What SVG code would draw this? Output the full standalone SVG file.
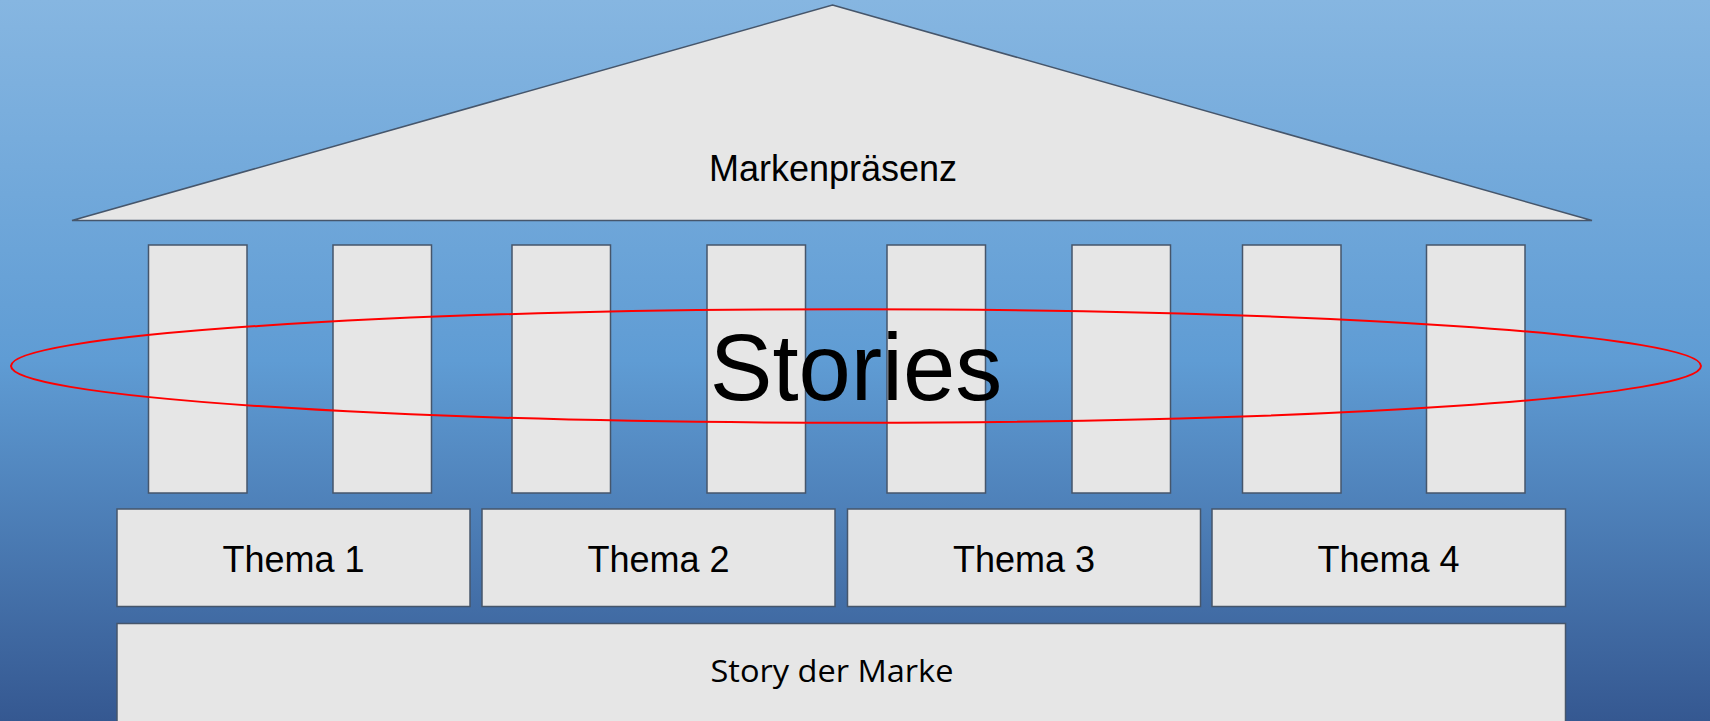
<svg xmlns="http://www.w3.org/2000/svg" width="1710" height="721" viewBox="0 0 1710 721">
<defs>
<linearGradient id="bg" x1="0" y1="0" x2="0" y2="1">
<stop offset="0" stop-color="#86b6e1"/>
<stop offset="0.5" stop-color="#5f9cd4"/>
<stop offset="1" stop-color="#355891"/>
</linearGradient>
<style>
.sh{fill:#e6e6e6;stroke:#46566b;stroke-width:1.5}
.t{font-family:"Liberation Sans",Arial,sans-serif;fill:#000;text-anchor:middle}
</style>
</defs>
<rect x="0" y="0" width="1710" height="721" fill="url(#bg)"/>
<g id="roof">
<polygon class="sh" points="832.5,5 1592,220.5 72,220.5"/>
<text class="t" x="833" y="181" font-size="36">Markenpräsenz</text>
</g>
<g id="columns">
<rect class="sh" x="148.5" y="245" width="98.5" height="248"/>
<rect class="sh" x="333" y="245" width="98.5" height="248"/>
<rect class="sh" x="512" y="245" width="98.5" height="248"/>
<rect class="sh" x="707" y="245" width="98.5" height="248"/>
<rect class="sh" x="887" y="245" width="98.5" height="248"/>
<rect class="sh" x="1072" y="245" width="98.5" height="248"/>
<rect class="sh" x="1242.5" y="245" width="98.5" height="248"/>
<rect class="sh" x="1426.5" y="245" width="98.5" height="248"/>
</g>
<g id="thema1"><rect class="sh" x="117" y="509" width="353" height="97.5"/><text class="t" x="293.5" y="572" font-size="36">Thema 1</text></g>
<g id="thema2"><rect class="sh" x="482" y="509" width="353" height="97.5"/><text class="t" x="658.5" y="572" font-size="36">Thema 2</text></g>
<g id="thema3"><rect class="sh" x="847.5" y="509" width="353" height="97.5"/><text class="t" x="1024" y="572" font-size="36">Thema 3</text></g>
<g id="thema4"><rect class="sh" x="1212" y="509" width="353.5" height="97.5"/><text class="t" x="1388.5" y="572" font-size="36">Thema 4</text></g>
<g id="story">
<rect class="sh" x="117" y="623.5" width="1448.5" height="110"/>
<text x="832" y="682" font-family="'Open Sans','Liberation Sans',sans-serif" font-size="31" text-anchor="middle" textLength="243" lengthAdjust="spacingAndGlyphs" fill="#000">Story der Marke</text>
</g>
<g id="connectors"></g>
<g id="stories">
<ellipse cx="856" cy="366" rx="845" ry="56.7" fill="none" stroke="#ff0000" stroke-width="2"/>
<text class="t" x="856" y="400" font-size="94">Stories</text>
</g>
</svg>
